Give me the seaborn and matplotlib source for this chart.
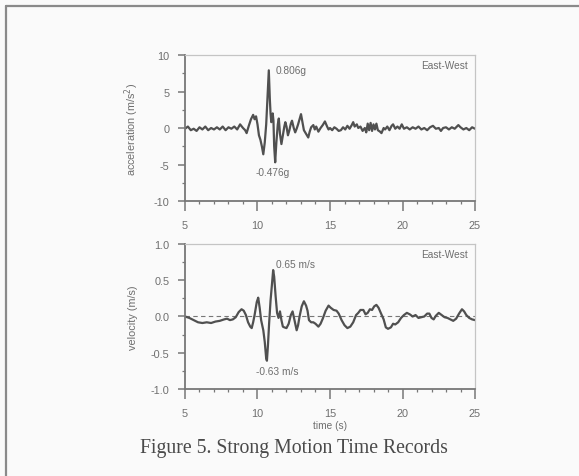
import numpy as np
import pandas as pd
import matplotlib
matplotlib.use("Agg")
import matplotlib.pyplot as plt
from matplotlib.lines import Line2D
from matplotlib.ticker import MultipleLocator
import seaborn as sns

# ---------------- data ----------------
acc_t = [5.0, 5.2, 5.4, 5.6, 5.8, 6.0, 6.2, 6.4, 6.6, 6.8, 7.0, 7.2, 7.4, 7.6, 7.8,
         8.0, 8.2, 8.4, 8.6, 8.8, 9.0, 9.15, 9.25, 9.4, 9.55, 9.7, 9.8, 9.9, 10.0,
         10.1, 10.2, 10.3, 10.4, 10.5, 10.6, 10.7, 10.78, 10.85, 10.9, 10.95, 11.0,
         11.05, 11.1, 11.15, 11.22, 11.3, 11.4, 11.47, 11.55, 11.65, 11.75, 11.85,
         11.92, 12.0, 12.1, 12.2, 12.3, 12.38, 12.5, 12.6, 12.7, 12.8, 12.9, 13.0,
         13.1, 13.2, 13.35, 13.5, 13.6, 13.7, 13.85, 13.95, 14.05, 14.2, 14.35, 14.5,
         14.65, 14.8, 14.9, 15.0, 15.15, 15.3, 15.45, 15.6, 15.75, 15.9, 16.05, 16.2,
         16.35, 16.5, 16.6, 16.7, 16.85, 16.95, 17.1, 17.25, 17.4, 17.5, 17.6, 17.7,
         17.8, 17.9, 18.0, 18.1, 18.2, 18.3, 18.45, 18.55, 18.7, 18.8, 18.95, 19.1,
         19.25, 19.35, 19.5, 19.65, 19.8, 19.95, 20.1, 20.3, 20.5, 20.7, 20.9, 21.1,
         21.3, 21.5, 21.7, 21.9, 22.1, 22.3, 22.5, 22.65, 22.8, 23.0, 23.2, 23.4,
         23.6, 23.85, 24.0, 24.2, 24.4, 24.6, 24.8, 25.0]
acc_v = [-0.1, 0.2, -0.3, -0.1, -0.4, 0.1, -0.2, 0.2, -0.3, 0.0, -0.2, 0.1, -0.2, 0.2, -0.3,
         0.1, -0.1, 0.2, -0.2, 0.5, 0.0, -0.3, -0.7, 0.3, 1.2, 1.8, 1.2, 1.6, 0.5,
         -1.0, -1.6, -2.5, -3.6, -2.0, 0.5, 4.5, 7.9, 4.0, 2.0, 0.8, 1.3,
         2.0, 1.0, -2.5, -4.7, -2.0, 0.5, 1.3, -0.8, -2.2, -1.0, 0.2,
         0.8, 0.2, -1.0, -0.3, 0.6, 1.0, 0.0, -0.6, -0.1, 0.5, 1.2, 1.9,
         0.8, -0.3, -0.8, -1.3, -0.5, 0.1, 0.4, -0.2, 0.2, -0.5, 0.0, 0.4,
         0.9, 0.2, -0.2, 0.0, -0.3, 0.1, -0.1, -0.4, -0.3, 0.1, -0.2, 0.3,
         -0.1, 0.4, 0.8, 0.2, 0.5, 0.0, 0.2, -0.4, 0.0, -0.6, 0.6, -0.3,
         0.7, -0.4, 0.5, -0.2, 0.6, -0.3, -0.5, -0.7, 0.0, -0.2, 0.2, -0.3,
         0.3, 0.5, -0.1, 0.2, -0.1, 0.5, -0.1, 0.1, -0.2, 0.1, -0.1, 0.2,
         -0.2, 0.0, -0.3, 0.1, 0.3, -0.1, 0.0, -0.4, 0.0, 0.1, -0.2, 0.1,
         -0.1, 0.4, 0.1, -0.2, 0.0, -0.3, 0.1, -0.1]

vel_t = [5.0, 5.3, 5.6, 5.9, 6.2, 6.5, 6.8, 7.1, 7.4, 7.7, 7.9, 8.1, 8.3, 8.5, 8.7,
         8.9, 9.05, 9.2, 9.35, 9.5, 9.6, 9.7, 9.8, 9.95, 10.05, 10.15, 10.25, 10.4,
         10.5, 10.6, 10.65, 10.72, 10.8, 10.9, 11.0, 11.08, 11.15, 11.25, 11.35,
         11.45, 11.55, 11.65, 11.75, 11.85, 12.0, 12.15, 12.3, 12.42, 12.55, 12.7,
         12.8, 12.9, 13.05, 13.2, 13.35, 13.45, 13.55, 13.7, 13.85, 14.0, 14.2,
         14.35, 14.5, 14.7, 14.9, 15.05, 15.25, 15.45, 15.6, 15.8, 16.0, 16.2, 16.4,
         16.6, 16.8, 16.95, 17.1, 17.3, 17.45, 17.6, 17.75, 17.9, 18.05, 18.2, 18.35,
         18.5, 18.7, 18.85, 19.0, 19.2, 19.35, 19.5, 19.7, 19.9, 20.1, 20.3, 20.5,
         20.7, 20.9, 21.1, 21.3, 21.5, 21.7, 21.85, 22.0, 22.15, 22.3, 22.5, 22.7,
         22.9, 23.1, 23.3, 23.5, 23.7, 23.9, 24.1, 24.25, 24.4, 24.6, 24.8, 25.0]
vel_v = [0.0, -0.02, -0.05, -0.08, -0.09, -0.08, -0.09, -0.07, -0.06, -0.04, -0.03, -0.05, -0.04, -0.01, 0.06,
         0.10, 0.08, 0.02, -0.08, -0.14, -0.16, -0.08, 0.02, 0.20, 0.26, 0.12, -0.05, -0.19,
         -0.35, -0.58, -0.61, -0.40, -0.10, 0.22, 0.45, 0.64, 0.55, 0.28, 0.05,
         -0.02, 0.07, -0.05, -0.14, -0.15, -0.16, -0.10, 0.02, 0.07, -0.05, -0.19,
         -0.12, 0.00, 0.14, 0.21, 0.15, 0.08, -0.05, -0.08, -0.08, -0.10, -0.14,
         -0.10, -0.03, 0.08, 0.15, 0.12, 0.09, 0.08, 0.04, -0.05, -0.12, -0.16, -0.14,
         -0.08, 0.02, 0.05, 0.09, 0.09, 0.03, 0.05, 0.10, 0.09, 0.14, 0.16, 0.12,
         0.05, -0.04, -0.15, -0.17, -0.15, -0.10, -0.11, -0.08, -0.02, 0.02, 0.05, 0.03,
         0.00, 0.02, -0.02, -0.01, 0.00, 0.04, 0.04, -0.02, -0.04, 0.01, 0.05, 0.02,
         -0.01, -0.02, -0.04, -0.06, -0.03, 0.04, 0.10, 0.07, 0.02, -0.02, -0.04, -0.05]

x_ticks = [5, 10, 15, 20, 25]
acc_ticks = [-10, -5, 0, 5, 10]
acc_tick_labels = ["-10", "-5", "0", "5", "10"]
vel_ticks = [-1.0, -0.5, 0.0, 0.5, 1.0]
vel_tick_labels = ["-1.0", "-0.5", "0.0", "0.5", "1.0"]
acc_peak_label = "0.806g"
acc_min_label = "-0.476g"
vel_peak_label = "0.65 m/s"
vel_min_label = "-0.63 m/s"
component = "East-West"
caption = "Figure 5. Strong Motion Time Records"

acc_df = pd.DataFrame({"time": acc_t, "acc": acc_v})
vel_df = pd.DataFrame({"time": vel_t, "vel": vel_v})

# ---------------- style ----------------
sns.set_theme(style="ticks")
plt.rcParams["font.family"] = ["Liberation Sans", "DejaVu Sans"]
bg = "#fafafa"
text_c = "#6e6e6e"
spine_c = "#777777"
line_c = "#505050"

fig = plt.figure(figsize=(5.79, 4.77), dpi=100, facecolor=bg)
ax1 = fig.add_axes([0.3195, 0.5765, 0.5009, 0.3061], facecolor=bg)
ax2 = fig.add_axes([0.3195, 0.1824, 0.5009, 0.3040], facecolor=bg)

sns.lineplot(data=acc_df, x="time", y="acc", ax=ax1, sort=False, estimator=None,
             color=line_c, linewidth=1.6)
sns.lineplot(data=vel_df, x="time", y="vel", ax=ax2, sort=False, estimator=None,
             color=line_c, linewidth=1.6)
ax2.axhline(0, color="#777777", linewidth=0.8, linestyle=(0, (4, 3)), zorder=1)

for ax, yt, ytl, ymin, ymax, yminor in [(ax1, acc_ticks, acc_tick_labels, -10, 10, 2.5),
                                         (ax2, vel_ticks, vel_tick_labels, -1.0, 1.0, 0.25)]:
    ax.set_xlim(5, 25)
    ax.set_ylim(ymin, ymax)
    ax.set_xticks(x_ticks)
    ax.set_yticks(yt)
    ax.set_yticklabels(ytl)
    ax.xaxis.set_minor_locator(MultipleLocator(1))
    ax.yaxis.set_minor_locator(MultipleLocator(yminor))
    ax.tick_params(axis="x", which="major", direction="out", length=7, width=1.1,
                   color=spine_c, labelsize=7.8, labelcolor=text_c, pad=7)
    ax.tick_params(axis="y", which="major", direction="out", length=5, width=1.1,
                   color=spine_c, labelsize=7.8, labelcolor=text_c, pad=6)
    ax.tick_params(axis="both", which="minor", direction="out", length=2.5, width=0.9,
                   color=spine_c)
    for s in ["left", "bottom"]:
        ax.spines[s].set_color(spine_c)
        ax.spines[s].set_linewidth(1.3)
    for s in ["top", "right"]:
        ax.spines[s].set_color("#c4c4c4")
        ax.spines[s].set_linewidth(0.9)
    ax.set_xlabel("")
    ax.text(0.975, 0.93, component, transform=ax.transAxes, ha="right", va="center",
            fontsize=7.3, color=text_c)

ax1.set_ylabel("acceleration (m/s$^2$)", fontsize=7.8, color=text_c, labelpad=9)
ax2.set_ylabel("velocity (m/s)", fontsize=7.8, color=text_c, labelpad=9)
ax2.set_xlabel("time (s)", fontsize=7.3, color=text_c, labelpad=1)

ax1.text(11.25, 7.9, acc_peak_label, fontsize=7.3, color=text_c, ha="left", va="center")
ax1.text(9.85, -6.0, acc_min_label, fontsize=7.3, color=text_c, ha="left", va="center")
ax2.text(11.3, 0.73, vel_peak_label, fontsize=7.3, color=text_c, ha="left", va="center")
ax2.text(9.9, -0.75, vel_min_label, fontsize=7.3, color=text_c, ha="left", va="center")

fig.text(0.508, 1 - 449 / 477, caption, ha="center", va="center", fontsize=14.2,
         family=["Liberation Serif", "DejaVu Serif"], color="#4a4a4a")

# scanned page border
fig.add_artist(Line2D([6 / 579, 6 / 579], [0, 1 - 7 / 477], transform=fig.transFigure,
                      color="#8a8a8a", linewidth=1.6))
fig.add_artist(Line2D([6 / 579, 1], [1 - 7 / 477, 1 - 7 / 477], transform=fig.transFigure,
                      color="#8a8a8a", linewidth=1.6))

fig.savefig("out.png", dpi=100, facecolor=bg)
